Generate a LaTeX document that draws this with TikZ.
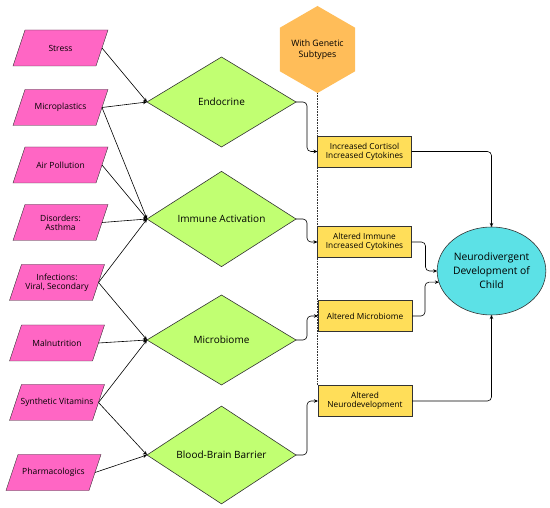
\documentclass[tikz,border=0pt]{standalone}
\usepackage{fontspec}
\setmainfont{Open Sans}
\usetikzlibrary{shapes.geometric,arrows.meta,backgrounds}
\definecolor{parapink}{HTML}{FF66C4}
\definecolor{diagreen}{HTML}{C1FF72}
\definecolor{boxyellow}{HTML}{FFDE59}
\definecolor{hexorange}{HTML}{FFBD59}
\definecolor{ellcyan}{HTML}{5CE1E6}
\definecolor{linegray}{HTML}{333333}
\begin{document}
\begin{tikzpicture}[x=1pt,y=-1pt,inner sep=0pt,outer sep=0pt,line width=0.6pt,
>={Stealth[length=4pt,width=3.5pt]},
factor/.style={rectangle,minimum width=83pt,minimum height=36pt,align=center,font=\fontsize{8.5}{9}\selectfont},
pathway/.style={draw=linegray,fill=diagreen,diamond,minimum width=149pt,minimum height=90pt,align=center,font=\fontsize{10}{12}\selectfont},
effect/.style={draw=linegray,fill=boxyellow,rectangle,minimum width=94pt,minimum height=31pt,align=center,font=\fontsize{8.3}{9}\selectfont},
link/.style={->,draw=black,line width=0.6pt,rounded corners=4pt}]
\useasboundingbox (0,0) rectangle (550,508);

% exposures
\draw (60.5,48) node[factor] (stress) {Stress};
\draw (60.5,107.5) node[factor] (micro) {Microplastics};
\draw (60.5,165) node[factor] (air) {Air Pollution};
\draw (60.5,222.5) node[factor] (disord) {Disorders:\\Asthma};
\draw (57,282.5) node[factor] (infect) {Infections:\\Viral, Secondary};
\draw (57,343) node[factor] (malnut) {Malnutrition};
\draw (57,402.5) node[factor] (synvit) {Synthetic Vitamins};
\draw (53.5,472.5) node[factor] (pharma) {Pharmacologics};
\begin{scope}[on background layer]
\foreach \n in {stress,micro,air,disord,infect,malnut,synvit,pharma}
  \draw[draw=linegray,fill=parapink] ([xshift=6pt]\n.north west) -- ([xshift=6pt]\n.north east)
    -- ([xshift=-6pt]\n.south east) -- ([xshift=-6pt]\n.south west) -- cycle;
\end{scope}

% pathways
\draw (221.5,102) node[pathway] (endo) {Endocrine};
\draw (221.5,219) node[pathway] (immune) {Immune Activation};
\draw (221.5,340) node[pathway] (microb) {Microbiome};
\draw (221.5,455) node[pathway] (bbb) {Blood-Brain Barrier};

% genetics
\draw (317.5,49.5) node[fill=hexorange,regular polygon,regular polygon sides=6,shape border rotate=30,minimum size=87pt,align=center,font=\fontsize{8.8}{11.5}\selectfont] (genes) {With Genetic\\Subtypes};

% effects
\draw (364.5,151.5) node[effect] (cort) {Increased Cortisol\\Increased Cytokines};
\draw (364.5,242) node[effect] (altimm) {Altered Immune\\Increased Cytokines};
\draw (365,316) node[effect] (altmic) {Altered Microbiome};
\draw (365,401) node[effect] (altneu) {Altered\\Neurodevelopment};

% outcome
\draw (491.5,271) node[draw=linegray,fill=ellcyan,ellipse,minimum width=107pt,minimum height=88pt,align=center,font=\fontsize{10.3}{14}\selectfont] (child) {Neurodivergent\\Development of\\Child};

\draw[densely dotted,draw=linegray] (genes.south) -- (genes.south |- altneu.north);

\draw[->] (stress.0) -- (endo.180);
\draw[->] (micro.0) -- (endo.180);
\draw[->] (micro.0) -- (immune.180);
\draw[->] (air.0) -- (immune.180);
\draw[->] (disord.0) -- (immune.180);
\draw[->] (infect.0) -- (immune.180);
\draw[->] (infect.0) -- (microb.180);
\draw[->] (malnut.0) -- (microb.180);
\draw[->] (synvit.0) -- (microb.180);
\draw[->] (synvit.0) -- (bbb.180);
\draw[->] (pharma.0) -- (bbb.180);

\draw[link] (endo.0) -- ++(11,0) |- (cort.180);
\draw[link] (immune.0) -- ++(11,0) |- (altimm.180);
\draw[link] (microb.0) -- ++(11,0) |- (altmic.180);
\draw[link] (bbb.0) -- ++(11,0) |- (altneu.180);

\draw[link] (cort.0) -| (child.90);
\draw[link] (altimm.0) -- ++(14,0) |- (child.180);
\draw[link] (altmic.0) -- ++(13,0) |- (child.192);
\draw[link] (altneu.0) -| (child.-90);
\end{tikzpicture}
\end{document}
